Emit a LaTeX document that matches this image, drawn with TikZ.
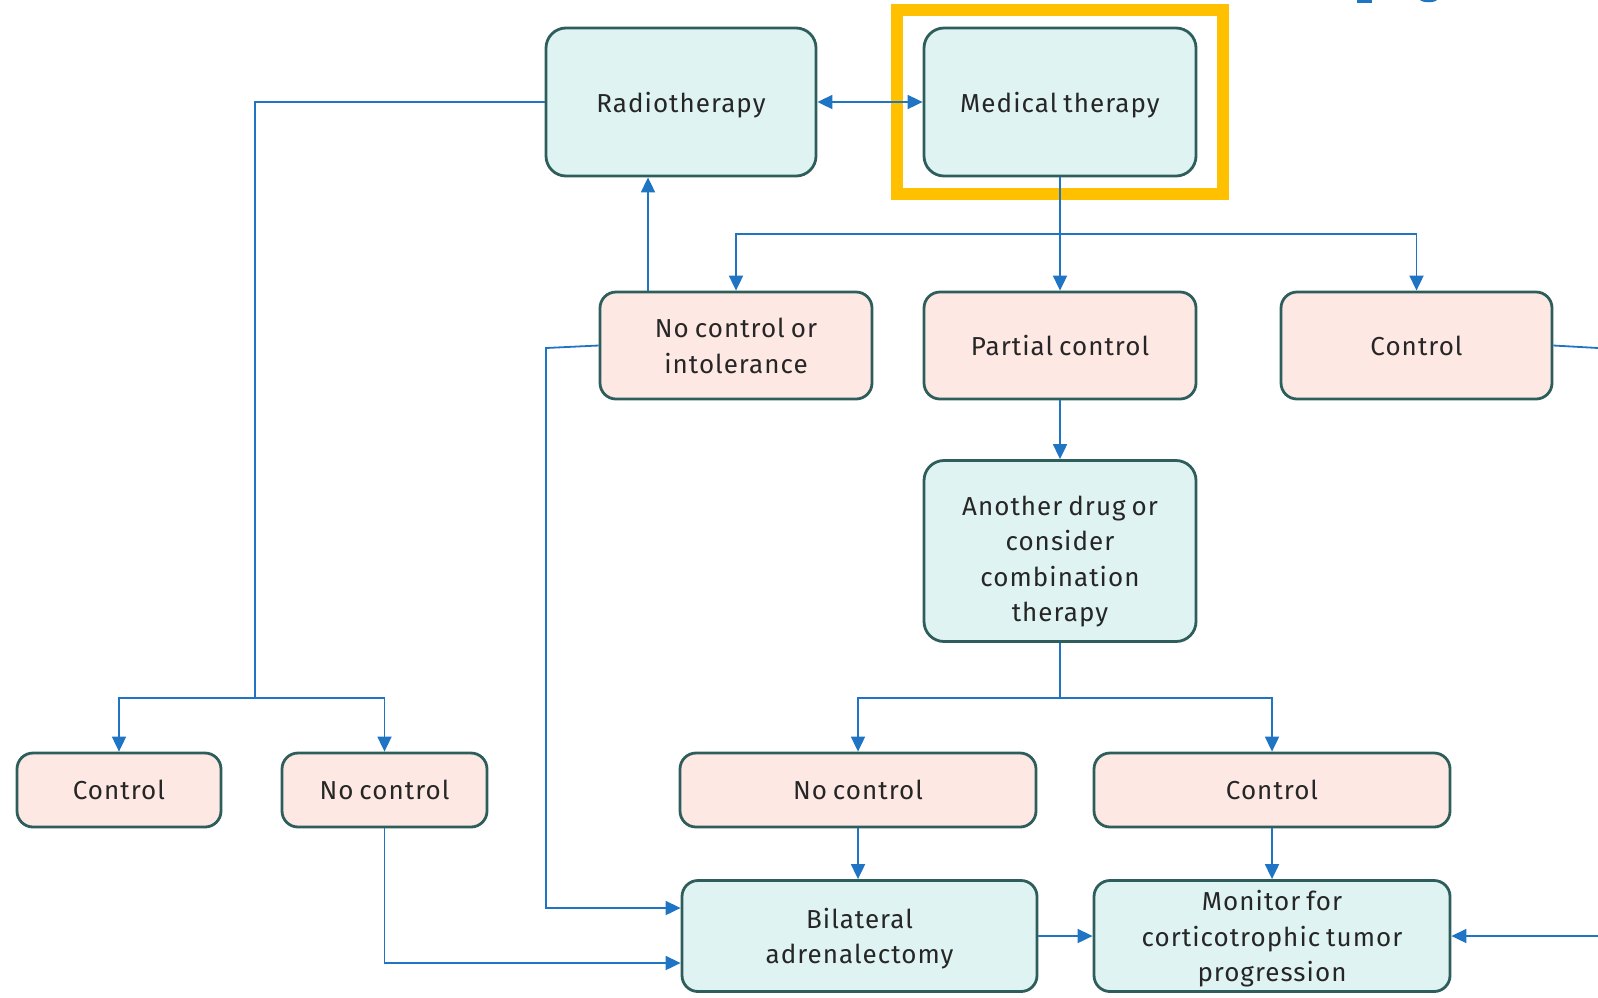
\documentclass[tikz,border=0pt]{standalone}
\usepackage{fontspec}
\setmainfont[LetterSpace=4,WordSpace=0.75]{Fira Sans}
\usetikzlibrary{arrows.meta,calc}
\definecolor{tealfill}{HTML}{DFF4F2}
\definecolor{pinkfill}{HTML}{FDE8E3}
\definecolor{boxline}{HTML}{2E5E5B}
\definecolor{connblue}{HTML}{1F74C4}
\definecolor{frameyellow}{HTML}{FFC000}
\definecolor{txt}{HTML}{262626}
\tikzset{
  box/.style={draw=boxline, line width=1.4pt, rounded corners=8pt, align=center,
    text=txt, font=\fontsize{13}{17.8}\selectfont, inner sep=2pt, text depth=0pt},
  tealbox/.style={box, fill=tealfill},
  pinkbox/.style={box, fill=pinkfill},
  conn/.style={draw=connblue, line width=0.9pt},
  arr/.style={conn, -{Triangle[length=7.5pt,width=7pt]}},
  darr/.style={conn, {Triangle[length=7.5pt,width=7pt]}-{Triangle[length=7.5pt,width=7pt]}},
}
\begin{document}
\begin{tikzpicture}[x=0.5pt,y=-0.5pt]
\useasboundingbox (0,0) rectangle (1598,997);
% top right fragments
\fill[connblue] (1357,0) rectangle (1372,3);
\fill[connblue] (1420,0) -- (1437,0) .. controls (1434,3) and (1423,3) .. (1420,0) -- cycle;
% yellow highlight frame
\draw[frameyellow, line width=6pt] (897,10) rectangle (1223,194);
% nodes
\node[tealbox, minimum width=135pt, minimum height=74pt, rounded corners=10pt] (radio) at (681,102) {Radiotherapy};
\node[tealbox, minimum width=136pt, minimum height=74pt, rounded corners=10pt] (med) at (1060,102) {Medical therapy};
\node[pinkbox, minimum width=136pt, minimum height=53.5pt] (nci) at (736,345.5) {No control or\\intolerance};
\node[pinkbox, minimum width=136pt, minimum height=53.5pt] (partial) at (1060,345.5) {Partial control};
\node[pinkbox, minimum width=135.5pt, minimum height=53.5pt] (ctrlR) at (1416.5,345.5) {Control};
\node[tealbox, minimum width=136pt, minimum height=90.5pt, rounded corners=10pt] (another) at (1060,551) {\rule{0pt}{17.5pt}Another drug or\\consider\\combination\\therapy};
\node[pinkbox, minimum width=102pt, minimum height=37pt] (ctrlL) at (119,790) {Control};
\node[pinkbox, minimum width=102.5pt, minimum height=37pt] (nocL) at (384.5,790) {No control};
\node[pinkbox, minimum width=178pt, minimum height=37pt] (nocM) at (858,790) {No control};
\node[pinkbox, minimum width=178pt, minimum height=37pt] (ctrlM) at (1272,790) {Control};
\node[tealbox, minimum width=177.5pt, minimum height=55.5pt] (bil) at (859.5,936) {Bilateral\\adrenalectomy};
\node[tealbox, minimum width=178pt, minimum height=55.5pt] (mon) at (1272,936) {Monitor for\\corticotrophic tumor\\progression};
% coordinates
\coordinate (jL) at (255,698);
\coordinate (xa) at (648,0);
\coordinate (jT) at (1060,234);
\coordinate (jB) at (1060,698);
\coordinate (kA) at (546,348);
\coordinate (kB) at (0,908);
\coordinate (kC) at (0,963);
\coordinate (edgeM) at (1598,936);
\coordinate (edgeC) at (1598,348);
% connectors
\draw[darr] (radio.east) -- (med.west);
\draw[conn] (radio.west) -| (jL);
\draw[arr] (jL) -| (ctrlL.north);
\draw[arr] (jL) -| (nocL.north);
\draw[arr] (nci.north -| xa) -- (radio.south -| xa);
\draw[arr] (med.south) -- (partial.north);
\draw[arr] (jT) -| (nci.north);
\draw[arr] (jT) -| (ctrlR.north);
\draw[arr] (nci.west) -- (kA) |- (bil.west |- kB);
\draw[arr] (partial.south) -- (another.north);
\draw[conn] (another.south) -- (jB);
\draw[arr] (jB) -| (nocM.north);
\draw[arr] (jB) -| (ctrlM.north);
\draw[arr] (nocM.south) -- (nocM.south |- bil.north);
\draw[arr] (ctrlM.south) -- (ctrlM.south |- mon.north);
\draw[arr] (bil.east) -- (mon.west);
\draw[arr] (nocL.south) |- (bil.west |- kC);
\draw[arr] (edgeM) -- (mon.east);
\draw[conn] (ctrlR.east) -- (edgeC);
\end{tikzpicture}
\end{document}
